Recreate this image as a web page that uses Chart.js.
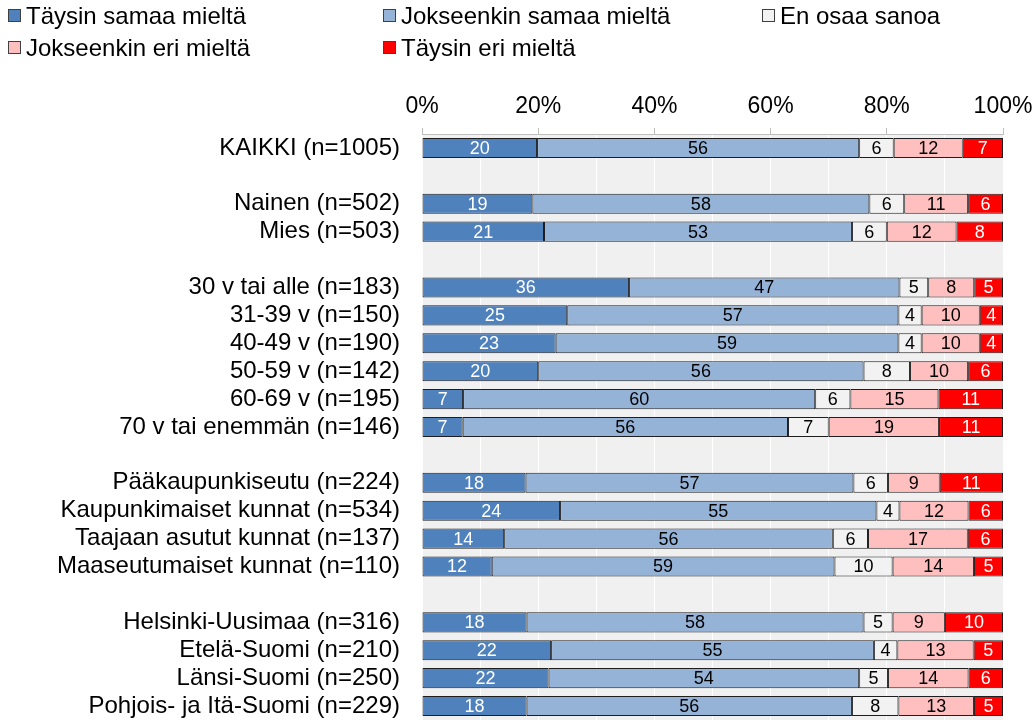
<!DOCTYPE html>
<html>
<head>
<meta charset="utf-8">
<script src="https://cdn.jsdelivr.net/npm/chart.js@4/dist/chart.umd.min.js"></script>
<style>
  body { margin: 0; background: #fff; }
  #wrap { width: 1035px; height: 720px; position: relative; }
</style>
</head>
<body>
<div id="wrap"><canvas id="chart"></canvas></div>
<script>
const categories = [
    'KAIKKI (n=1005)', '',
    'Nainen (n=502)', 'Mies (n=503)', '',
    '30 v tai alle (n=183)', '31-39 v (n=150)', '40-49 v (n=190)',
    '50-59 v (n=142)', '60-69 v (n=195)', '70 v tai enemmän (n=146)', '',
    'Pääkaupunkiseutu (n=224)', 'Kaupunkimaiset kunnat (n=534)',
    'Taajaan asutut kunnat (n=137)', 'Maaseutumaiset kunnat (n=110)', '',
    'Helsinki-Uusimaa (n=316)', 'Etelä-Suomi (n=210)', 'Länsi-Suomi (n=250)',
    'Pohjois- ja Itä-Suomi (n=229)'
];

const seriesNames = [
    'Täysin samaa mieltä', 'Jokseenkin samaa mieltä', 'En osaa sanoa',
    'Jokseenkin eri mieltä', 'Täysin eri mieltä'
];

const taysinSamaa     = [20, null, 19, 21, null, 36, 25, 23, 20, 7, 7, null, 18, 24, 14, 12, null, 18, 22, 22, 18];
const jokseenkinSamaa = [56, null, 58, 53, null, 47, 57, 59, 56, 60, 56, null, 57, 55, 56, 59, null, 58, 55, 54, 56];
const enOsaa          = [6, null, 6, 6, null, 5, 4, 4, 8, 6, 7, null, 6, 4, 6, 10, null, 5, 4, 5, 8];
const jokseenkinEri   = [12, null, 11, 12, null, 8, 10, 10, 10, 15, 19, null, 9, 12, 17, 14, null, 9, 13, 14, 13];
const taysinEri       = [7, null, 6, 8, null, 5, 4, 4, 6, 11, 11, null, 11, 6, 6, 5, null, 10, 5, 6, 5];

const xTicks = [0, 20, 40, 60, 80, 100];

const series = [taysinSamaa, jokseenkinSamaa, enOsaa, jokseenkinEri, taysinEri];
const colors = ['#4F81BD', '#95B3D7', '#F2F2F2', '#FFBFBF', '#FF0000'];
const labelColors = ['#FFFFFF', '#000000', '#000000', '#000000', '#FFFFFF'];

const FONT = '"Liberation Sans", Arial, sans-serif';

// rounded shares don't always sum to 100, scale each row to full width
const rowTotals = categories.map((c, j) =>
    series.reduce((sum, s) => sum + (s[j] || 0), 0));

const datasets = series.map((s, i) => ({
    label: seriesNames[i],
    data: s.map((v, j) => v === null ? null : v / rowTotals[j] * 100),
    backgroundColor: colors[i],
    borderColor: '#1E1E1E',
    borderWidth: 1,
    borderSkipped: false,
    barPercentage: 0.72,
    categoryPercentage: 1,
}));

const plotBackground = {
    id: 'plotBackground',
    beforeDraw(chart) {
        const { ctx, chartArea } = chart;
        ctx.save();
        ctx.fillStyle = '#F0F0F0';
        ctx.fillRect(chartArea.left, chartArea.top,
            chartArea.right - chartArea.left, chartArea.bottom - chartArea.top);
        ctx.restore();
    }
};

const barLabels = {
    id: 'barLabels',
    afterDatasetsDraw(chart) {
        const ctx = chart.ctx;
        ctx.save();
        ctx.font = '18px ' + FONT;
        ctx.textAlign = 'center';
        ctx.textBaseline = 'middle';
        series.forEach((s, i) => {
            const meta = chart.getDatasetMeta(i);
            meta.data.forEach((bar, j) => {
                if (s[j] === null) return;
                ctx.fillStyle = labelColors[i];
                ctx.fillText(String(s[j]), (bar.x + bar.base) / 2, bar.y + 1);
            });
        });
        ctx.restore();
    }
};

// legend in three fixed columns, like the original
const legendPos = [
    { x: 8, y: 16 }, { x: 383, y: 16 }, { x: 762, y: 16 },
    { x: 8, y: 48 }, { x: 383, y: 48 }
];

const gridLegend = {
    id: 'gridLegend',
    afterDraw(chart) {
        const ctx = chart.ctx;
        ctx.save();
        ctx.font = '24px ' + FONT;
        ctx.textBaseline = 'middle';
        ctx.textAlign = 'left';
        seriesNames.forEach((name, i) => {
            const p = legendPos[i];
            ctx.fillStyle = colors[i];
            ctx.fillRect(p.x + 0.5, p.y - 6.5, 12, 12);
            ctx.strokeStyle = '#404040';
            ctx.lineWidth = 1;
            ctx.strokeRect(p.x + 0.5, p.y - 6.5, 12, 12);
            ctx.fillStyle = '#000';
            ctx.fillText(name, p.x + 18, p.y + 1);
        });
        ctx.restore();
    }
};

new Chart(document.getElementById('chart'), {
    type: 'bar',
    data: { labels: categories, datasets: datasets },
    options: {
        indexAxis: 'y',
        responsive: true,
        maintainAspectRatio: false,
        animation: false,
        layout: { padding: { left: 0, right: 32, top: 0, bottom: 0 } },
        plugins: {
            legend: { display: false },
            tooltip: { enabled: false },
        },
        scales: {
            x: {
                position: 'top',
                stacked: true,
                min: 0,
                max: 100,
                afterFit(scale) {
                    scale.height = 134;
                    scale.paddingLeft = 0;
                    scale.paddingRight = 0;
                },
                ticks: {
                    stepSize: 10,
                    autoSkip: false,
                    maxRotation: 0,
                    padding: 8,
                    color: '#000',
                    font: { family: FONT, size: 23 },
                    callback: (v) => xTicks.includes(v) ? v + '%' : '',
                },
                grid: {
                    color: '#FFFFFF',
                    lineWidth: 1,
                    drawTicks: true,
                    tickLength: 6,
                    tickColor: (c) => xTicks.includes(c.tick.value) ? '#BFBFBF' : 'rgba(0,0,0,0)',
                },
                border: { display: true, color: '#BFBFBF' },
            },
            y: {
                stacked: true,
                afterFit(scale) {
                    scale.width = 422;
                    scale.paddingTop = 0;
                    scale.paddingBottom = 0;
                },
                ticks: {
                    autoSkip: false,
                    padding: 22,
                    color: '#000',
                    font: { family: FONT, size: 24 },
                },
                grid: { display: false, drawTicks: false },
                border: { display: false },
            },
        },
    },
    plugins: [plotBackground, barLabels, gridLegend],
});
</script>
</body>
</html>
